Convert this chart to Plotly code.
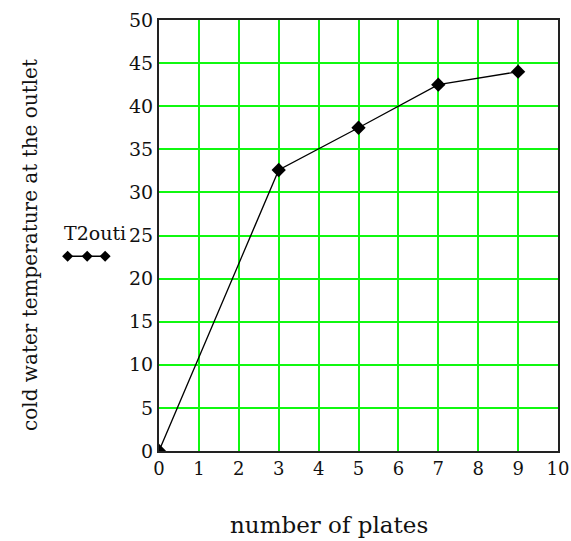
import plotly.graph_objects as go

# Outlet temperature of the cold stream versus plate count
plates = [0, 3, 5, 7, 9]
t2_out = [0, 32.6, 37.5, 42.5, 44.0]

x_ticks = list(range(0, 11))
y_ticks = list(range(0, 51, 5))

serif = "DejaVu Serif, serif"
grid_green = "#10f810"

fig = go.Figure()
fig.add_trace(go.Scatter(
    x=plates, y=t2_out,
    mode="lines+markers",
    line=dict(color="black", width=1.3),
    marker=dict(symbol="diamond", size=11, color="black"),
    cliponaxis=True,
    showlegend=False,
))

fig.update_xaxes(
    range=[0, 10], tickvals=x_ticks, ticktext=[str(v) for v in x_ticks],
    showgrid=True, gridcolor=grid_green, gridwidth=2,
    showline=True, linecolor="#222", linewidth=2, mirror=True,
    ticks="", zeroline=False, automargin=False,
    tickfont=dict(family=serif, size=18, color="#111"),
    ticklabelstandoff=0,
)
fig.update_yaxes(
    range=[0, 50], tickvals=y_ticks, ticktext=[str(v) for v in y_ticks],
    showgrid=True, gridcolor=grid_green, gridwidth=2,
    showline=True, linecolor="#222", linewidth=2, mirror=True,
    ticks="", zeroline=False, automargin=False,
    tickfont=dict(family=serif, size=19, color="#111"),
)

# axis titles
fig.add_annotation(
    text="number of plates", xref="paper", yref="paper",
    x=0.427, y=-0.172, xanchor="center", yanchor="middle",
    showarrow=False, font=dict(family=serif, size=23, color="#111"),
)
fig.add_annotation(
    text="cold water temperature at the outlet", xref="paper", yref="paper",
    x=-0.322, y=0.477, xanchor="center", yanchor="middle", textangle=-90,
    showarrow=False, font=dict(family=serif, size=20, color="#111"),
)

# series key: name above a line with three diamonds
fig.add_annotation(
    text="T2outi", xref="paper", yref="paper",
    x=-0.243, y=0.505, xanchor="left", yanchor="middle",
    showarrow=False, font=dict(family=serif, size=19, color="#111"),
)
key_y = 0.452
key_x = [-0.229, -0.180, -0.135]
fig.add_shape(type="line", xref="paper", yref="paper",
              x0=key_x[0], x1=key_x[-1], y0=key_y, y1=key_y,
              line=dict(color="black", width=1.5))
for kx in key_x:
    fig.add_shape(type="path", xref="paper", yref="paper",
                  xsizemode="pixel", ysizemode="pixel",
                  xanchor=kx, yanchor=key_y,
                  path="M -5.5 0 L 0 5.5 L 5.5 0 L 0 -5.5 Z",
                  fillcolor="black", line=dict(color="black", width=0))

fig.update_layout(
    width=571, height=541,
    margin=dict(l=159, r=13, t=20, b=90),
    paper_bgcolor="white", plot_bgcolor="white",
)

fig.write_html("out.html")
